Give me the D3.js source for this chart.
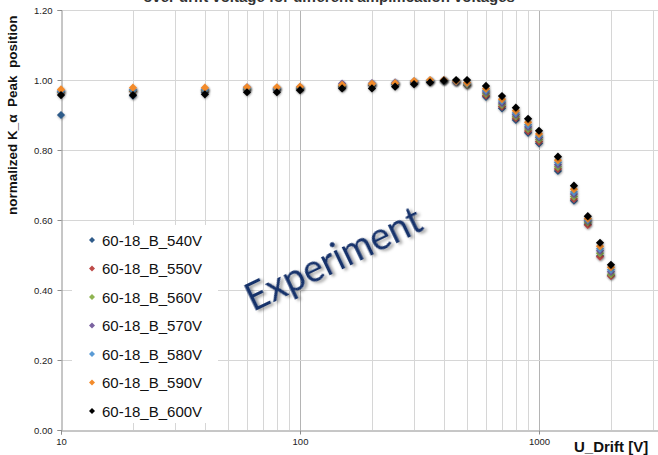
<!DOCTYPE html>
<html>
<head>
<meta charset="utf-8">
<script src="https://cdn.jsdelivr.net/npm/d3@7"></script>
<style>
  html, body { margin: 0; padding: 0; background: #fff; }
  svg { display: block; }
</style>
</head>
<body>
<svg id="chart" width="658" height="455"></svg>
<script>
// Drift voltages [V]
const uDrift = [10, 20, 40, 60, 80, 100, 150, 200, 250, 300, 350, 400, 450, 500,
                600, 700, 800, 900, 1000, 1200, 1400, 1600, 1800, 2000];

// Normalized K_alpha peak position per amplification voltage
const s540 = [0.900, 0.955, 0.965, 0.972, 0.972, 0.975, 0.980, 0.985, 0.988, 0.993, 0.996, 0.998, 0.995, 0.985,
              0.952, 0.919, 0.886, 0.849, 0.819, 0.740, 0.655, 0.588, 0.497, 0.442];
const s550 = [0.965, 0.968, 0.970, 0.973, 0.974, 0.976, 0.982, 0.986, 0.990, 0.994, 0.997, 0.999, 0.995, 0.986,
              0.956, 0.924, 0.891, 0.854, 0.824, 0.746, 0.660, 0.586, 0.495, 0.440];
const s560 = [0.966, 0.969, 0.971, 0.974, 0.975, 0.977, 0.983, 0.987, 0.991, 0.995, 0.997, 0.999, 0.996, 0.987,
              0.961, 0.929, 0.896, 0.860, 0.830, 0.752, 0.667, 0.594, 0.505, 0.445];
const s570 = [0.968, 0.972, 0.973, 0.979, 0.977, 0.980, 0.990, 0.991, 0.993, 0.996, 0.998, 1.000, 0.995, 0.990,
              0.966, 0.934, 0.901, 0.866, 0.836, 0.758, 0.674, 0.598, 0.512, 0.452];
const s580 = [0.968, 0.972, 0.973, 0.976, 0.976, 0.978, 0.985, 0.988, 0.991, 0.995, 0.998, 0.999, 0.996, 0.990,
              0.970, 0.940, 0.906, 0.872, 0.840, 0.765, 0.680, 0.600, 0.518, 0.458];
const s590 = [0.973, 0.978, 0.978, 0.979, 0.979, 0.981, 0.986, 0.989, 0.991, 0.997, 1.000, 1.000, 0.997, 0.992,
              0.975, 0.945, 0.912, 0.879, 0.846, 0.771, 0.688, 0.604, 0.525, 0.465];
const s600 = [0.957, 0.957, 0.959, 0.965, 0.965, 0.971, 0.976, 0.976, 0.981, 0.988, 0.993, 0.998, 1.000, 1.000,
              0.983, 0.954, 0.921, 0.889, 0.855, 0.781, 0.698, 0.611, 0.535, 0.472];

const seriesLabels = ["60-18_B_540V", "60-18_B_550V", "60-18_B_560V", "60-18_B_570V",
                      "60-18_B_580V", "60-18_B_590V", "60-18_B_600V"];
const seriesValues = [s540, s550, s560, s570, s580, s590, s600];
const seriesColors = ["#2f5b8a", "#be4b48", "#8fb451", "#7a62a0", "#5a9bd5", "#f38b2c", "#000000"];

const yTicks = [0, 0.2, 0.4, 0.6, 0.8, 1.0, 1.2];
const xTickLabels = [10, 100, 1000];

const W = 658, H = 455;
const svg = d3.select("#chart");

const x = d3.scaleLog().domain([10, 10000]).range([61, 778]);
const y = d3.scaleLinear().domain([0, 1.2]).range([430, 10]);

const defs = svg.append("defs");
const shadow = defs.append("filter").attr("id", "mk-shadow")
  .attr("x", "-50%").attr("y", "-50%").attr("width", "200%").attr("height", "200%");
shadow.append("feDropShadow").attr("dx", 0.6).attr("dy", 1).attr("stdDeviation", 0.8)
  .attr("flood-color", "#000").attr("flood-opacity", 0.35);
const txtShadow = defs.append("filter").attr("id", "txt-shadow")
  .attr("x", "-20%").attr("y", "-40%").attr("width", "140%").attr("height", "180%");
txtShadow.append("feDropShadow").attr("dx", 2).attr("dy", 2.5).attr("stdDeviation", 1.5)
  .attr("flood-color", "#000").attr("flood-opacity", 0.4);

// Grid
const grid = svg.append("g");
const xGridTicks = x.ticks().filter(t => x(t) <= W + 1 && t > 10);
grid.selectAll("line.vx").data(xGridTicks).join("line")
  .attr("x1", d => Math.round(x(d)) + 0.5).attr("x2", d => Math.round(x(d)) + 0.5)
  .attr("y1", y(1.2)).attr("y2", y(0))
  .attr("stroke", d => xTickLabels.includes(d) ? "#b4b4b4" : "#d6d6d6")
  .attr("stroke-width", 1);
grid.selectAll("line.hy").data(yTicks.filter(t => t > 0)).join("line")
  .attr("x1", x(10)).attr("x2", W)
  .attr("y1", d => Math.round(y(d)) + 0.5).attr("y2", d => Math.round(y(d)) + 0.5)
  .attr("stroke", "#d6d6d6").attr("stroke-width", 1);

// Axes
const yAxis = d3.axisLeft(y).tickValues(yTicks).tickSize(4).tickFormat(d3.format(".2f"));
const gy = svg.append("g").attr("transform", `translate(${Math.round(x(10)) + 0.5},0)`).call(yAxis);
gy.select(".domain").attr("stroke", "#8e8e8e");
gy.selectAll(".tick line").attr("stroke", "#8e8e8e");
gy.selectAll(".tick text").attr("font-family", "Liberation Sans, Arial, sans-serif")
  .attr("font-size", 9.5).attr("fill", "#222").attr("x", -9);

const xAxis = d3.axisBottom(x).tickValues(xTickLabels).tickSize(4).tickFormat(d3.format("d"));
const gx = svg.append("g").attr("transform", `translate(0,${Math.round(y(0)) + 0.5})`).call(xAxis);
gx.select(".domain").attr("stroke", "#8e8e8e");
gx.selectAll(".tick line").attr("stroke", "#8e8e8e");
gx.selectAll(".tick text").attr("font-family", "Liberation Sans, Arial, sans-serif")
  .attr("font-size", 9.5).attr("fill", "#222").attr("y", 8);

// Markers
const diamond = d3.symbol(d3.symbolSquare, 34);
seriesValues.forEach((vals, i) => {
  svg.append("g").attr("filter", "url(#mk-shadow)")
    .selectAll("path").data(uDrift.map((u, k) => [u, vals[k]])).join("path")
    .attr("d", diamond)
    .attr("transform", d => `translate(${x(d[0])},${y(d[1])}) rotate(45)`)
    .attr("fill", seriesColors[i]);
});

// Legend
const legend = svg.append("g");
legend.append("rect").attr("x", 72).attr("y", 225).attr("width", 146).attr("height", 198).attr("fill", "#fff");
const rows = legend.selectAll("g.row").data(seriesLabels).join("g")
  .attr("transform", (d, i) => `translate(92,${240 + i * 28.5})`);
rows.append("path").attr("d", d3.symbol(d3.symbolSquare, 18)).attr("transform", "rotate(45)")
  .attr("fill", (d, i) => seriesColors[i]);
rows.append("text").attr("x", 10).attr("y", 5.5)
  .attr("font-family", "Liberation Sans, Arial, sans-serif").attr("font-size", 15).attr("fill", "#111")
  .text(d => d);

// Titles
svg.append("text").attr("x", 329).attr("y", 2).attr("text-anchor", "middle")
  .attr("font-family", "Liberation Sans, Arial, sans-serif").attr("font-weight", "bold")
  .attr("font-size", 15).attr("fill", "#333")
  .text("over drift voltage for different amplification voltages");

svg.append("text").attr("transform", "translate(17,215) rotate(-90)")
  .attr("font-family", "Liberation Sans, Arial, sans-serif").attr("font-weight", "bold")
  .attr("font-size", 13.5).attr("fill", "#111").attr("xml:space", "preserve")
  .style("white-space", "pre")
  .text("normalized K_α  Peak  position");

svg.append("text").attr("x", 574).attr("y", 452)
  .attr("font-family", "Liberation Sans, Arial, sans-serif").attr("font-weight", "bold")
  .attr("font-size", 15).attr("fill", "#111")
  .text("U_Drift [V]");

svg.append("text").attr("transform", "translate(253,312) rotate(-25.6)")
  .attr("font-family", "Lato, Open Sans, sans-serif").attr("font-size", 38)
  .attr("fill", "#14306a").attr("filter", "url(#txt-shadow)")
  .text("Experiment");
</script>
</body>
</html>
